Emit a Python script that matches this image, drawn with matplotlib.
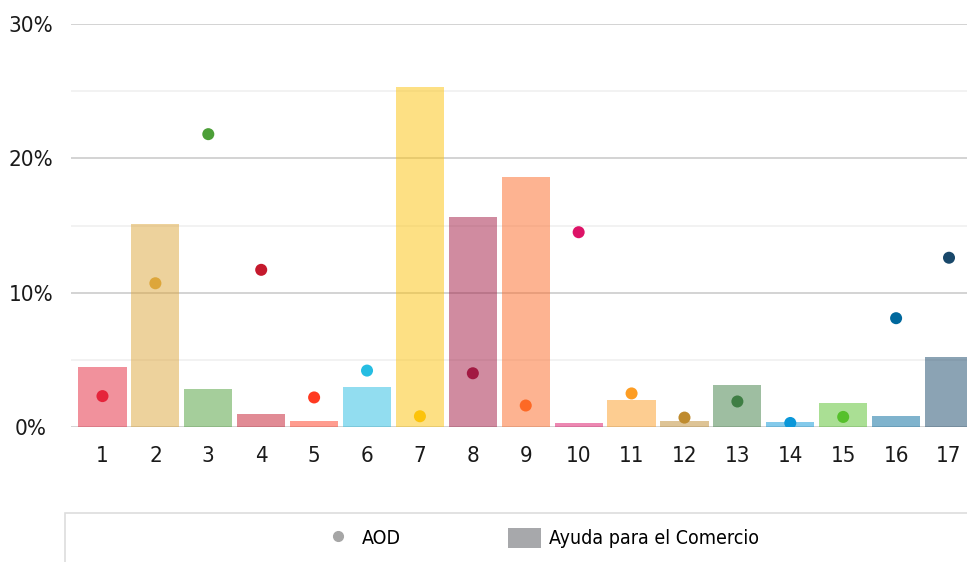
import numpy as np
import matplotlib
matplotlib.use("Agg")
from matplotlib import pyplot as plt
from matplotlib.patches import Patch, Rectangle
from matplotlib.lines import Line2D

# Goals (ODS) 1..17
goals = [str(i) for i in range(1, 18)]

# Ayuda para el Comercio (bars), % share
comercio = [4.5, 15.1, 2.8, 1.0, 0.45, 3.0, 25.3, 15.6, 18.6,
            0.3, 2.0, 0.45, 3.1, 0.4, 1.8, 0.8, 5.2]

# AOD (dots), % share
aod = [2.3, 10.7, 21.8, 11.7, 2.2, 4.2, 0.8, 4.0, 1.6,
       14.5, 2.5, 0.7, 1.9, 0.3, 0.75, 8.1, 12.6]

colors = ["#e5243b", "#dda63a", "#4c9f38", "#c5192d", "#ff3a21", "#26bde2",
          "#fcc30b", "#a21942", "#fd6925", "#dd1367", "#fd9d24", "#bf8b2e",
          "#3f7e44", "#0a97d9", "#56c02b", "#00689d", "#19486a"]

plt.rcParams['font.family'] = ['DejaVu Sans']
plt.rcParams['font.stretch'] = 'condensed'

fig = plt.figure(figsize=(9.67, 5.62), dpi=100)
ax = fig.add_axes([71/967, 135/562, 896/967, 403/562])

x = np.arange(1, 18)
ax.bar(x, comercio, width=0.91, color=colors, alpha=0.5, zorder=2)
ax.scatter(x, aod, s=75, c=colors, zorder=3, linewidths=0)

ax.set_xlim(0.405, 17.34)
ax.set_ylim(0, 30)
ax.set_xticks(x)
ax.set_xticklabels(goals)
ax.set_yticks([0, 10, 20, 30])
ax.set_yticklabels(["0%", "10%", "20%", "30%"])
ax.set_yticks([5, 15, 25], minor=True)

ax.grid(axis="y", which="major", color="#cccccc", linewidth=1.2, zorder=0)
ax.grid(axis="y", which="minor", color="#f0f0f0", linewidth=1.2, zorder=0)
for s in ax.spines.values():
    s.set_visible(False)

ax.tick_params(axis="both", which="both", length=0, labelsize=16, colors="#1a1a1a")
ax.tick_params(axis="x", pad=14)
ax.tick_params(axis="y", pad=29)
for lab in ax.get_yticklabels():
    lab.set_horizontalalignment("center")

# legend box
fig.patches.append(Rectangle((65/967, -0.1), 1.0, 0.1 + 49/562,
                             transform=fig.transFigure, fill=False,
                             edgecolor="#dddddd", linewidth=1.2))
handles = [Line2D([], [], marker="o", linestyle="none", color="#a6a6a6", markersize=7),
           Patch(facecolor="#a7a8ab", edgecolor="none")]
fig.legend(handles, ["AOD", "Ayuda para el Comercio"], loc="center",
           bbox_to_anchor=(540/967, 1 - 538/562), ncol=2, frameon=False,
           fontsize=14, handlelength=1.7, handleheight=1.2, handletextpad=0.4,
           columnspacing=5.5)

fig.savefig("out.png", dpi=100)
